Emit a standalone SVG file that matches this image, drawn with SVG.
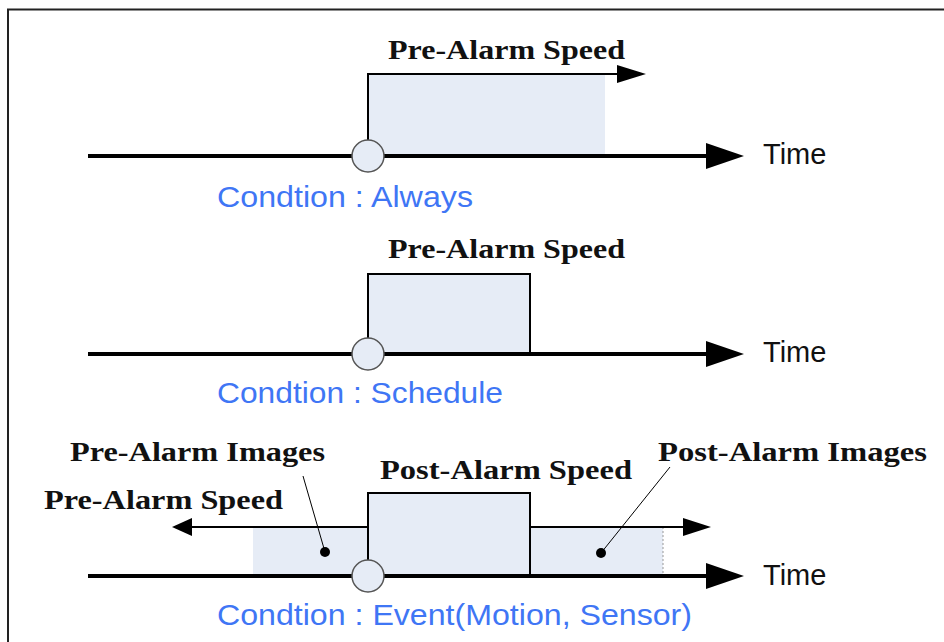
<svg xmlns="http://www.w3.org/2000/svg" width="944" height="642" viewBox="0 0 944 642">
<style>
.bg{fill:#fff}
.frame{fill:none;stroke:#222;stroke-width:2}
.axis{stroke:#000;stroke-width:4;fill:none}
.sp{stroke:#000;stroke-width:2;fill:none}
.fillA{fill:#e6ecf6}
.box{fill:#e6ecf6;stroke:#000;stroke-width:2}
.head{fill:#000}
.ev{fill:#e6ecf6;stroke:#555;stroke-width:1.5}
.lbl{font-family:"Liberation Serif","DejaVu Serif",serif;font-weight:bold;font-size:27px;fill:#111}
.time{font-family:"Liberation Sans",Arial,sans-serif;font-size:29px;fill:#111}
.cond{font-family:"Liberation Sans",Arial,sans-serif;font-size:30px;fill:#3f76f5}
.lead{stroke:#000;stroke-width:1;fill:none}
.dot{fill:#000}
</style>
<rect class="bg" x="0" y="0" width="944" height="642"/>
<path class="frame" d="M8,642 V9.5 H944"/>

<g id="timeline-always">
  <rect class="fillA" x="368" y="74" width="237" height="82"/>
  <line class="axis" x1="88" y1="156" x2="710" y2="156"/>
  <polygon class="head" points="706,143 744,156 706,169"/>
  <path class="sp" d="M368,156 V74 H622"/>
  <polygon class="head" points="617,65 646,74 617,83"/>
  <circle class="ev" cx="368" cy="156" r="16"/>
  <text class="lbl" x="388" y="59" textLength="237" lengthAdjust="spacingAndGlyphs">Pre-Alarm Speed</text>
  <text class="time" x="763" y="164">Time</text>
  <text class="cond" x="217" y="207" textLength="256" lengthAdjust="spacingAndGlyphs">Condtion : Always</text>
</g>

<g id="timeline-schedule">
  <rect class="box" x="368" y="274" width="162" height="80"/>
  <line class="axis" x1="88" y1="354" x2="710" y2="354"/>
  <polygon class="head" points="706,341 744,354 706,367"/>
  <circle class="ev" cx="368" cy="354" r="16"/>
  <text class="lbl" x="388" y="258" textLength="237" lengthAdjust="spacingAndGlyphs">Pre-Alarm Speed</text>
  <text class="time" x="763" y="362">Time</text>
  <text class="cond" x="217" y="403" textLength="286" lengthAdjust="spacingAndGlyphs">Condtion : Schedule</text>
</g>

<g id="timeline-event">
  <rect class="fillA" x="253" y="527" width="115" height="49"/>
  <rect class="fillA" x="530" y="527" width="133" height="49"/>
  <line x1="663" y1="527" x2="663" y2="576" stroke="#999" stroke-width="1" stroke-dasharray="2,2"/>
  <rect class="box" x="368" y="493" width="162" height="83"/>
  <line class="axis" x1="88" y1="576" x2="710" y2="576"/>
  <polygon class="head" points="706,563 744,576 706,589"/>
  <line class="sp" x1="368" y1="527" x2="188" y2="527"/>
  <polygon class="head" points="192,518 172,527 192,536"/>
  <line class="sp" x1="530" y1="527" x2="688" y2="527"/>
  <polygon class="head" points="683,518 711,527 683,536"/>
  <circle class="ev" cx="368" cy="576" r="16"/>
  <text class="lbl" x="380" y="479" textLength="252" lengthAdjust="spacingAndGlyphs">Post-Alarm Speed</text>
  <text class="lbl" x="44" y="509" textLength="239" lengthAdjust="spacingAndGlyphs">Pre-Alarm Speed</text>
  <text class="time" x="763" y="585">Time</text>
  <text class="cond" x="217" y="625" textLength="475" lengthAdjust="spacingAndGlyphs">Condtion : Event(Motion, Sensor)</text>
</g>

<g id="callout-pre-images">
  <line class="lead" x1="303" y1="476" x2="325" y2="552"/>
  <circle class="dot" cx="325" cy="552" r="5"/>
  <text class="lbl" x="70" y="461" textLength="255" lengthAdjust="spacingAndGlyphs">Pre-Alarm Images</text>
</g>

<g id="callout-post-images">
  <line class="lead" x1="670" y1="467" x2="601" y2="553"/>
  <circle class="dot" cx="601" cy="553" r="5"/>
  <text class="lbl" x="658" y="461" textLength="269" lengthAdjust="spacingAndGlyphs">Post-Alarm Images</text>
</g>
</svg>
